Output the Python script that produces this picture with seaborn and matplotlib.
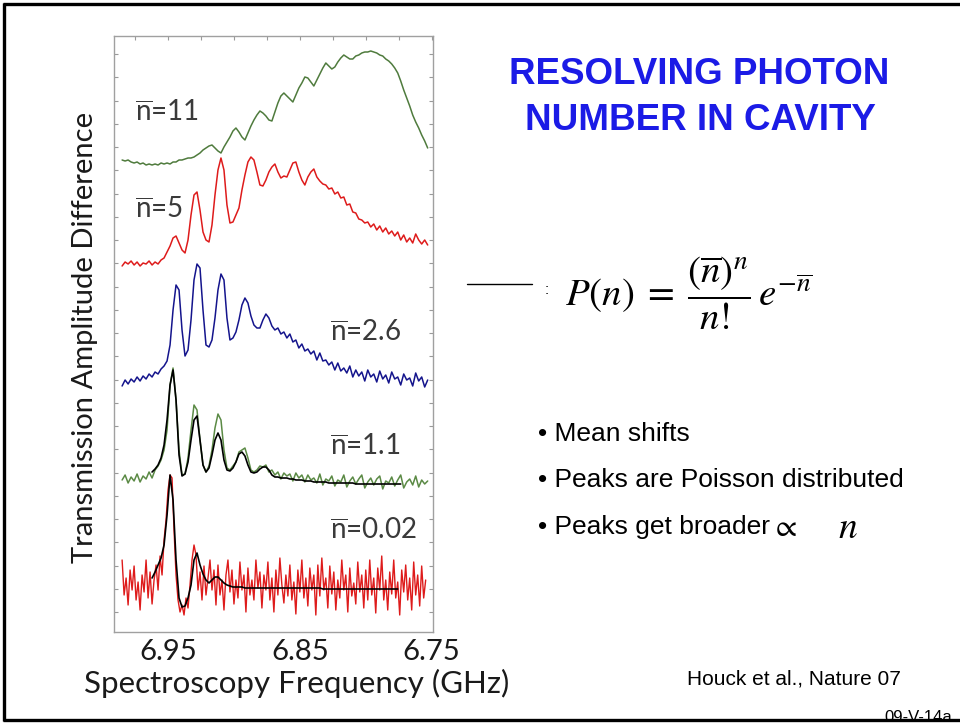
import numpy as np
import seaborn as sns
import matplotlib
matplotlib.use("Agg")
import matplotlib.pyplot as plt
from matplotlib.ticker import MultipleLocator, FixedLocator, NullFormatter, FormatStrFormatter
from matplotlib.lines import Line2D

# ---------------- data ----------------
# frequency sweep (GHz), x axis reversed
sweep_start, sweep_stop = 6.98485, 6.75303
sweep_fine_stop = 6.75455
fit_start = 6.96212
fit_stop_1p1 = 6.77348
fit_stop_0p02 = 6.77576

tick_values = [6.95, 6.85, 6.75]
tick_labels = ["6.95", "6.85", "6.75"]

trace_labels = ["11", "5", "2.6", "1.1", "0.02"]

# transmission amplitude difference (a.u., traces stacked with offsets)
trace_nbar_11 = [
    472, 471, 472, 470, 469, 470, 468, 469, 467, 468,
    467, 468, 467, 469, 468, 469, 468, 470, 470, 472,
    472, 473, 474, 474, 475, 477, 479, 482, 484, 486,
    487, 484, 481, 479, 485, 490, 495, 501, 504, 500,
    495, 492, 499, 506, 512, 517, 521, 519, 516, 512,
    511, 520, 529, 536, 539, 536, 533, 530, 537, 544,
    549, 555, 554, 550, 546, 552, 558, 564, 569, 566,
    563, 565, 570, 574, 577, 575, 573, 573, 576, 577,
    579, 580, 580, 581, 580, 579, 577, 576, 573, 571,
    568, 564, 559, 551, 542, 534, 526, 517, 510, 504,
    497, 491, 484]

trace_nbar_5 = [
    366, 370, 368, 371, 367, 370, 366, 369, 368, 371,
    367, 370, 368, 372, 374, 380, 386, 394, 396, 389,
    382, 379, 392, 417, 437, 440, 422, 400, 392, 390,
    407, 437, 462, 474, 462, 427, 409, 410, 417, 424,
    442, 457, 470, 475, 472, 460, 447, 446, 452, 460,
    465, 468, 460, 454, 456, 455, 462, 469, 470, 460,
    452, 447, 455, 460, 463, 455, 451, 448, 447, 443,
    444, 438, 440, 434, 435, 427, 428, 420, 419, 413,
    412, 409, 410, 405, 408, 402, 406, 400, 404, 398,
    401, 396, 400, 392, 397, 390, 394, 389, 398, 392,
    388, 392, 387]

trace_nbar_2p6 = [
    246, 252, 248, 253, 250, 255, 251, 256, 253, 258,
    255, 260, 258, 263, 266, 271, 287, 322, 347, 342,
    302, 276, 282, 312, 352, 368, 364, 322, 287, 285,
    292, 314, 342, 358, 352, 314, 292, 294, 300, 312,
    327, 334, 329, 316, 307, 304, 304, 312, 318, 314,
    306, 302, 304, 298, 300, 294, 298, 290, 292, 284,
    288, 281, 283, 278, 281, 272, 279, 271, 272, 267,
    270, 262, 269, 261, 264, 259, 266, 255, 262, 256,
    260, 251, 262, 255, 258, 250, 261, 253, 257, 249,
    260, 253, 255, 247, 258, 252, 254, 246, 259, 251,
    255, 245, 252]

trace_nbar_1p1 = [
    152, 157, 149, 155, 151, 158, 150, 156, 153, 160,
    154, 162, 166, 172, 182, 202, 247, 264, 232, 182,
    157, 158, 174, 202, 227, 222, 192, 167, 160, 166,
    182, 204, 218, 212, 182, 164, 162, 166, 170, 180,
    182, 184, 174, 162, 160, 162, 166, 165, 167, 160,
    162, 157, 160, 153, 159, 156, 158, 151, 159, 154,
    157, 150, 157, 152, 154, 149, 158, 147, 153, 151,
    156, 146, 152, 150, 157, 145, 151, 155, 148, 153,
    157, 144, 150, 154, 147, 153, 156, 143, 151, 149,
    155, 146, 152, 157, 144, 150, 153, 147, 156, 145,
    152, 148, 151]

fit_nbar_1p1 = [
    160, 163, 167, 174, 187, 212, 247, 262, 232, 177,
    156, 158, 170, 192, 212, 216, 192, 167, 160, 164,
    177, 192, 199, 192, 172, 162, 161, 164, 170, 178,
    180, 176, 167, 160, 159, 160, 163, 165, 165, 162,
    157, 155, 155, 154, 154, 154, 153, 153, 152, 152,
    152, 151, 151, 151, 150, 150, 150, 150, 150, 149,
    149, 149, 149, 149, 149, 149, 149, 149, 148, 148,
    148, 148, 148, 148, 148, 148, 148, 148, 148, 148,
    148, 148, 148, 148]

trace_nbar_0p02 = [
    72, 37, 54, 27, 62, 42, 66, 32, 50, 22,
    57, 40, 72, 34, 60, 28, 52, 67, 42, 76,
    57, 92, 112, 142, 157, 154, 102, 57, 32, 20,
    27, 17, 34, 24, 47, 72, 87, 77, 42, 60,
    32, 66, 37, 54, 72, 42, 62, 27, 67, 37,
    52, 22, 57, 72, 40, 62, 28, 52, 34, 70,
    42, 57, 20, 64, 37, 52, 32, 72, 44, 60,
    24, 57, 42, 70, 32, 54, 20, 62, 37, 74,
    47, 29, 57, 36, 67, 32, 50, 18, 62, 40,
    72, 34, 54, 26, 64, 42, 57, 17, 67, 36,
    74, 42, 54, 24, 66, 38, 60, 22, 52, 34,
    72, 42, 57, 20, 64, 36, 49, 28, 70, 40,
    57, 24, 62, 32, 72, 37, 54, 19, 64, 42,
    76, 32, 52, 22, 60, 38, 72, 34, 50, 17,
    62, 40, 67, 32, 54, 22, 70, 37, 57, 26,
    66, 34, 52]

fit_nbar_0p02 = [
    54, 60, 67, 74, 87, 117, 157, 132, 72, 34,
    25, 26, 34, 47, 72, 79, 67, 58, 52, 49,
    52, 55, 55, 52, 49, 47, 46, 45, 45, 45,
    45, 44, 44, 44, 44, 44, 44, 44, 44, 44,
    44, 44, 44, 44, 44, 44, 44, 44, 44, 44,
    44, 44, 44, 44, 44, 44, 44, 43, 43, 43,
    43, 43, 43, 43, 43, 43, 43, 43, 43, 43,
    43, 43, 43, 43, 43, 43, 43, 43, 43, 43,
    43, 43, 43]

# ---------------- style ----------------
sns.set_theme(style="white")
plt.rcParams['font.family'] = ['Lato', 'DejaVu Sans']
plt.rcParams.update({
    'mathtext.fontset': 'custom',
    'mathtext.rm': 'Lato',
    'mathtext.it': 'Lato:italic',
    'mathtext.bf': 'Lato:bold',
    'mathtext.sf': 'Lato',
})

W, H = 960, 723
fig = plt.figure(figsize=(W / 100, H / 100), dpi=100, facecolor='white')


def fx(px):
    return px / W


def fy(py):
    return 1 - py / H


ax_l, ax_r, ax_t, ax_b = 114, 433, 36, 632
ax = fig.add_axes([fx(ax_l), fy(ax_b), (ax_r - ax_l) / W, (ax_b - ax_t) / H])
ax.set_facecolor('white')

green_a = '#4f7b3d'
green_b = '#5b8a45'
red = '#de1b1b'
blue = '#14148c'

series = [
    (trace_nbar_11, sweep_start, sweep_stop, green_a, 1.1, 2),
    (trace_nbar_5, sweep_start, sweep_stop, red, 1.1, 2),
    (trace_nbar_2p6, sweep_start, sweep_stop, blue, 1.1, 2),
    (trace_nbar_1p1, sweep_start, sweep_stop, green_b, 1.1, 2),
    (trace_nbar_0p02, sweep_start, sweep_fine_stop, red, 1.0, 2),
    (fit_nbar_1p1, fit_start, fit_stop_1p1, 'black', 1.2, 3),
    (fit_nbar_0p02, fit_start, fit_stop_0p02, 'black', 1.2, 3),
]
for vals, f0, f1, col, lw, z in series:
    freq = np.linspace(f0, f1, len(vals))
    sns.lineplot(x=freq, y=vals, ax=ax, color=col, linewidth=lw,
                 estimator=None, sort=False, legend=False, zorder=z)

ax.set_xlim(6.991, 6.749)
ax.set_ylim(0, 596)
ax.xaxis.set_major_locator(FixedLocator(tick_values))
ax.xaxis.set_major_formatter(FormatStrFormatter('%.2f'))
ax.xaxis.set_minor_locator(MultipleLocator(0.025))
ax.yaxis.set_major_locator(MultipleLocator(23.25, offset=20))
ax.yaxis.set_major_formatter(NullFormatter())
ax.tick_params(which='both', direction='in', top=True, right=True,
               color='#9a9a9a', length=3, width=0.8)
ax.tick_params(axis='x', which='major', labelsize=21, pad=5, labelcolor='#1a1a1a')
ax.tick_params(axis='y', left=True, right=True)
for s in ax.spines.values():
    s.set_color('#a0a0a0')
    s.set_linewidth(1.0)
ax.set_xlabel('')
ax.set_ylabel('')

# trace labels
label_pos = [(135, 113), (135, 210), (330, 333), (330, 447), (330, 531)]
for lab, (px, py) in zip(trace_labels, label_pos):
    fig.text(fx(px), fy(py), r'$\overline{\mathrm{n}}$=' + lab, fontsize=20,
             color='#3a3a3a', ha='left', va='center')

# axis labels
fig.text(fx(85), fy(337), 'Transmission Amplitude Difference', rotation=90,
         fontsize=21, ha='center', va='center', color='#1a1a1a')
fig.text(fx(297), fy(683), 'Spectroscopy Frequency (GHz)', fontsize=22.5,
         ha='center', va='center', color='#1a1a1a')

# right-hand slide text
title_color = '#1b1be6'
fig.text(fx(699), fy(75), 'RESOLVING PHOTON', fontsize=26.5, weight='bold',
         color=title_color, ha='center', va='center', family='Liberation Sans')
fig.text(fx(700), fy(120), 'NUMBER IN CAVITY', fontsize=26.5, weight='bold',
         color=title_color, ha='center', va='center', family='Liberation Sans')

fig.add_artist(Line2D([fx(467), fx(532)], [fy(284), fy(284)], color='black', lw=1.0))
fig.text(fx(545), fy(290), ':', fontsize=11, family='Liberation Sans',
         ha='left', va='center', color='black')
fig.text(fx(565), fy(293),
         r'$P(n)\;=\;\dfrac{(\overline{n})^{n}}{n!}\,e^{-\overline{n}}$',
         math_fontfamily='stix', fontsize=28, ha='left', va='center', color='black')

bullet_font = dict(fontsize=19, family='Liberation Sans', ha='left', va='center', color='black')
fig.text(fx(538), fy(434), '\u2022 Mean shifts', **bullet_font)
fig.text(fx(538), fy(480), '\u2022 Peaks are Poisson distributed', **bullet_font)
fig.text(fx(538), fy(527), '\u2022 Peaks get broader', **bullet_font)
fig.text(fx(771), fy(527), r'$\propto$', math_fontfamily='stix', fontsize=22,
         ha='left', va='center', color='black')
fig.text(fx(838), fy(527), r'$n$', math_fontfamily='stix', fontsize=27,
         ha='left', va='center', color='black')

fig.text(fx(687), fy(679), 'Houck et al., Nature 07', fontsize=15,
         family='Liberation Sans', ha='left', va='center', color='black')
fig.text(fx(884), fy(717), '09-V-14a', fontsize=12, family='Liberation Sans',
         ha='left', va='center', color='black')

# slide frame
frame = dict(color='black', lw=2.4, solid_capstyle='butt', zorder=10)
fig.add_artist(Line2D([fx(4), fx(4)], [fy(3), fy(721)], **frame))
fig.add_artist(Line2D([fx(3), 1.0], [fy(4), fy(4)], **frame))
fig.add_artist(Line2D([fx(3), 1.0], [fy(720), fy(720)], **frame))

fig.savefig('out.png', dpi=100, facecolor='white')
